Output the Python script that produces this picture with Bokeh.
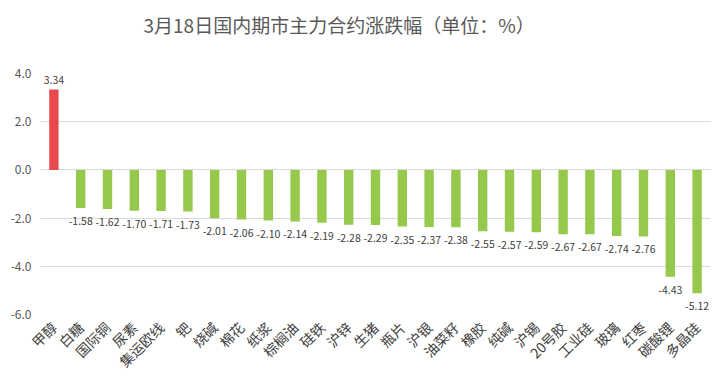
from bokeh.plotting import figure
from bokeh.models import ColumnDataSource, FactorRange, FixedTicker, NumeralTickFormatter, Range1d, Title
from bokeh.core.properties import value
from bokeh.embed import file_html
from bokeh.resources import INLINE
import math

title_text = "3月18日国内期市主力合约涨跌幅（单位：%）"
categories = ["甲醇", "白糖", "国际铜", "尿素", "集运欧线", "钯", "烧碱", "棉花", "纸浆", "棕榈油",
              "硅铁", "沪锌", "生猪", "瓶片", "沪银", "油菜籽", "橡胶", "纯碱", "沪锡", "20号胶",
              "工业硅", "玻璃", "红枣", "碳酸锂", "多晶硅"]
changes = [3.34, -1.58, -1.62, -1.70, -1.71, -1.73, -2.01, -2.06, -2.10, -2.14,
           -2.19, -2.28, -2.29, -2.35, -2.37, -2.38, -2.55, -2.57, -2.59, -2.67,
           -2.67, -2.74, -2.76, -4.43, -5.12]
y_ticks = [-6, -4, -2, 0, 2, 4]

UP = "#E8494E"
DOWN = "#95C84B"
FONT = "Noto Sans CJK SC"

colors = [UP if v >= 0 else DOWN for v in changes]
src = ColumnDataSource(dict(cat=categories, val=changes, color=colors))

pos = [(c, v) for c, v in zip(categories, changes) if v >= 0]
neg = [(c, v) for c, v in zip(categories, changes) if v < 0]
pos_src = ColumnDataSource(dict(cat=[c for c, _ in pos], val=[v for _, v in pos],
                                lab=["%.2f" % v for _, v in pos]))
neg_src = ColumnDataSource(dict(cat=[c for c, _ in neg], val=[v for _, v in neg],
                                lab=["%.2f" % v for _, v in neg]))

p = figure(width=724, height=381, output_backend="svg", toolbar_location=None,
           x_range=FactorRange(factors=categories, range_padding=0),
           y_range=Range1d(-6, 4),
           min_border_left=40, min_border_right=14, min_border_top=73, min_border_bottom=66)
p.styles = {"outline": "1px solid #D9D9D9", "outline-offset": "-2px"}

# spacer between the title and the plot area, then the title itself
p.add_layout(Title(text=" ", text_font_size="1px", standoff=33), "above")
p.add_layout(Title(text=title_text, align="left", offset=103, standoff=0,
                   text_font=FONT, text_font_size="19px", text_font_style="normal",
                   text_color="#595959"), "above")

p.vbar(x="cat", top="val", bottom=0, width=0.35, color="color", source=src, line_color=None)

p.text(x="cat", y="val", text="lab", source=pos_src, text_align="center", text_baseline="bottom",
       y_offset=-5, text_font=value(FONT), text_font_size="10.5px", text_color="#404040")
p.text(x="cat", y="val", text="lab", source=neg_src, text_align="center", text_baseline="top",
       y_offset=9, text_font=value(FONT), text_font_size="10.5px", text_color="#404040")

p.outline_line_color = None
p.xgrid.grid_line_color = None
p.ygrid.grid_line_color = "#D9D9D9"
p.ygrid.grid_line_width = 1

p.yaxis.ticker = FixedTicker(ticks=y_ticks)
p.yaxis.formatter = NumeralTickFormatter(format="0.0")
p.yaxis.axis_line_color = None
p.yaxis.major_tick_line_color = None
p.yaxis.minor_tick_line_color = None
p.yaxis.major_label_standoff = 3
p.yaxis.major_label_text_font = FONT
p.yaxis.major_label_text_font_size = "12px"
p.yaxis.major_label_text_color = "#595959"

p.xaxis.axis_line_color = None
p.xaxis.major_tick_line_color = None
p.xaxis.minor_tick_line_color = None
p.xaxis.major_label_orientation = math.pi / 4
p.xaxis.major_label_standoff = 4
p.xaxis.major_label_text_font = FONT
p.xaxis.major_label_text_font_size = "14px"
p.xaxis.major_label_text_color = "#404040"

open("out.html", "w").write(file_html(p, INLINE))
